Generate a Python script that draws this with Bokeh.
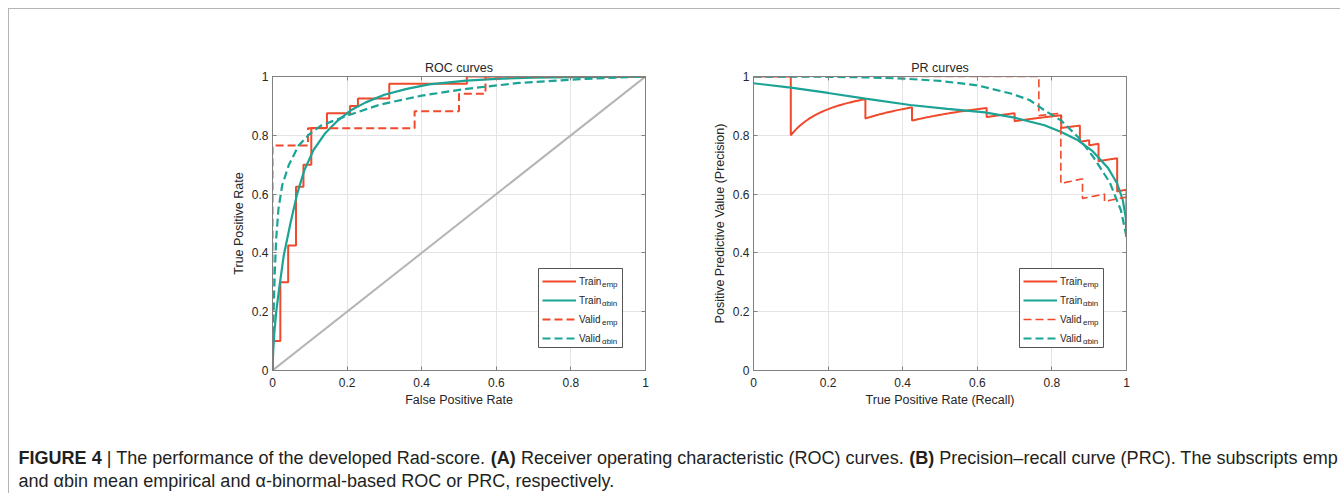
import numpy as np
from bokeh.plotting import figure
from bokeh.models import (Range1d, LinearAxis, FixedTicker, Label, Legend, LegendItem,
                          BoxAnnotation)
from bokeh.layouts import column, row
from bokeh.embed import file_html
from bokeh.resources import INLINE

FONT = "Liberation Sans"
RED = "#f0492b"
TEAL = "#1ba396"
DIAG = "#b5b5b5"
AXIS = "#808080"
TXT = "#262626"

TICKS = [0, 0.2, 0.4, 0.6, 0.8, 1]
TICK_LABELS = {0: "0", 0.2: "0.2", 0.4: "0.4", 0.6: "0.6", 0.8: "0.8", 1: "1"}

# ---------------- ROC data ----------------
roc_train_emp_fpr = [0, 0, 0.021, 0.042, 0.063, 0.083, 0.104, 0.146, 0.208, 0.229, 0.313, 0.521, 1.0]
roc_train_emp_tpr = [0, 0.1, 0.3, 0.425, 0.625, 0.7, 0.825, 0.875, 0.9, 0.925, 0.975, 1.0, 1.0]

roc_valid_emp_fpr = [0, 0, 0.095, 0.381, 0.5, 0.571, 1.0]
roc_valid_emp_tpr = [0, 0.765, 0.824, 0.882, 0.941, 1.0, 1.0]

roc_train_abin_fpr = [0, 0.002, 0.005, 0.01, 0.018, 0.03, 0.048, 0.066, 0.085, 0.11, 0.14, 0.175,
                      0.21, 0.25, 0.3, 0.36, 0.42, 0.52, 0.6, 0.7, 0.8, 0.9, 1.0]
roc_train_abin_tpr = [0, 0.07, 0.13, 0.2, 0.28, 0.39, 0.5, 0.6, 0.68, 0.75, 0.805, 0.85,
                      0.885, 0.912, 0.938, 0.958, 0.973, 0.986, 0.992, 0.996, 0.998, 0.999, 1.0]

roc_valid_abin_fpr = [0, 0.001, 0.003, 0.006, 0.01, 0.016, 0.026, 0.044, 0.07, 0.1, 0.13, 0.2,
                      0.29, 0.4, 0.52, 0.66, 0.84, 1.0]
roc_valid_abin_tpr = [0, 0.1, 0.2, 0.33, 0.45, 0.55, 0.63, 0.7, 0.765, 0.805, 0.833, 0.867,
                      0.905, 0.935, 0.958, 0.978, 0.992, 1.0]

chance_x = [0, 1]
chance_y = [0, 1]

# ---------------- PR data ----------------
pr_train_emp_rec = [0, 0.1, 0.1, 0.3, 0.3, 0.425, 0.425, 0.625, 0.625, 0.7, 0.7, 0.825, 0.825,
                    0.875, 0.875, 0.9, 0.9, 0.925, 0.925, 0.975, 0.975, 1.0, 1.0]
pr_train_emp_prec = [1.0, 1.0, 0.8, 0.923, 0.857, 0.895, 0.85, 0.893, 0.862, 0.875, 0.848, 0.868, 0.825,
                     0.833, 0.778, 0.783, 0.766, 0.771, 0.712, 0.722, 0.609, 0.615, 0.4545]

pr_valid_emp_rec = [0, 0.765, 0.765, 0.824, 0.824, 0.882, 0.882, 0.941, 0.941, 1.0, 1.0]
pr_valid_emp_prec = [1.0, 1.0, 0.867, 0.875, 0.636, 0.652, 0.585, 0.6, 0.575, 0.59, 0.447]

pr_train_abin_rec = [0, 0.1, 0.2, 0.3, 0.42, 0.52, 0.62, 0.7, 0.78, 0.825, 0.87, 0.91, 0.95,
                     0.975, 0.99, 0.998, 1.0]
pr_train_abin_prec = [0.977, 0.962, 0.944, 0.925, 0.903, 0.89, 0.878, 0.86, 0.834, 0.811, 0.783,
                      0.745, 0.69, 0.636, 0.58, 0.52, 0.455]

pr_valid_abin_rec = [0, 0.2, 0.3, 0.4, 0.5, 0.6, 0.69, 0.74, 0.78, 0.825, 0.87, 0.91, 0.955, 0.985, 1.0]
pr_valid_abin_prec = [1.0, 0.999, 0.997, 0.993, 0.985, 0.97, 0.942, 0.92, 0.885, 0.85, 0.794,
                      0.728, 0.64, 0.545, 0.455]

legend_names = ["Train", "Train", "Valid", "Valid"]
legend_subs = ["emp", "\u03b1bin", "emp", "\u03b1bin"]

caption_line1 = [
    ("FIGURE 4", True),
    ("| The performance of the developed Rad-score.", False),
    ("(A)", True),
    ("Receiver operating characteristic (ROC) curves.", False),
    ("(B)", True),
    ("Precision\u2013recall curve (PRC). The subscripts emp", False),
]
caption_line2 = "and \u03b1bin mean empirical and \u03b1-binormal-based ROC or PRC, respectively."

# Arial / Liberation Sans advance widths (1/1000 em) used to lay out the caption
_REG = dict(zip(" ()-.,|\u2013\u03b1", [278, 333, 333, 333, 278, 278, 260, 556, 578]))
_REG.update(dict(zip("ABCDEFGHIJKLMNOPQRSTUVWXYZ",
                     [667, 667, 722, 722, 667, 611, 778, 722, 278, 500, 667, 556, 833, 722, 778,
                      667, 778, 722, 667, 611, 722, 667, 944, 667, 667, 611])))
_REG.update(dict(zip("abcdefghijklmnopqrstuvwxyz",
                     [556, 556, 500, 556, 556, 278, 556, 556, 222, 222, 500, 222, 833, 556, 556,
                      556, 556, 333, 500, 278, 556, 500, 722, 500, 500, 500])))
_REG.update({d: 556 for d in "0123456789"})
_BOLD = {" ": 278, "(": 333, ")": 333, "4": 556, "A": 722, "B": 722, "E": 667, "F": 611,
         "G": 778, "I": 278, "R": 722, "U": 722}


def em_width(s, bold):
    tab = _BOLD if bold else _REG
    return sum(tab.get(ch, 556) for ch in s) / 1000.0


def pr_path(rec, prec, n=40):
    """Empirical PR path: vertical drops, and PR-space interpolation between points."""
    xs, ys = [rec[0]], [prec[0]]
    for r0, p0, r1, p1 in zip(rec[:-1], prec[:-1], rec[1:], prec[1:]):
        if r1 > r0:
            c0 = r0 * (1 - p0) / p0
            c1 = r1 * (1 - p1) / p1
            t = np.linspace(0, 1, n)[1:]
            r = r0 + t * (r1 - r0)
            c = c0 + t * (c1 - c0)
            p = np.where(r + c > 0, r / np.maximum(r + c, 1e-12), 1.0)
            xs.extend(r.tolist())
            ys.extend(p.tolist())
        else:
            xs.append(r1)
            ys.append(p1)
    return xs, ys


FRAME_W, FRAME_H = 373, 294


def make_fig(title, xlabel, ylabel, width, mbl, mbr):
    p = figure(width=width, height=404, min_border_left=mbl, min_border_right=mbr,
               min_border_top=67, min_border_bottom=43,
               x_range=Range1d(0, 1), y_range=Range1d(0, 1),
               output_backend="svg", toolbar_location=None, title=title)
    p.title.align = "center"
    p.title.text_font = FONT
    p.title.text_font_size = "12.5px"
    p.title.text_font_style = "normal"
    p.title.text_color = TXT
    p.title.standoff = 3
    p.outline_line_color = AXIS
    p.background_fill_color = "white"
    p.border_fill_color = "white"
    for ax in (p.xaxis[0], p.yaxis[0]):
        ax.ticker = FixedTicker(ticks=TICKS)
        ax.major_label_overrides = TICK_LABELS
        ax.major_label_text_font = FONT
        ax.major_label_text_font_size = "12px"
        ax.major_label_text_color = TXT
        ax.axis_label_text_font = FONT
        ax.axis_label_text_font_size = "12.5px"
        ax.axis_label_text_font_style = "normal"
        ax.axis_label_text_color = TXT
        ax.axis_line_color = AXIS
        ax.major_tick_line_color = AXIS
        ax.major_tick_in = 4
        ax.major_tick_out = 0
        ax.minor_tick_line_color = None
    p.xaxis[0].axis_label = xlabel
    p.yaxis[0].axis_label = ylabel
    p.xaxis[0].major_label_standoff = 7
    p.xaxis[0].axis_label_standoff = 3
    p.yaxis[0].major_label_standoff = 4
    p.yaxis[0].axis_label_standoff = 3
    for loc in ("above", "right"):
        ax = LinearAxis(ticker=FixedTicker(ticks=TICKS), major_label_text_font_size="1px",
                        major_label_text_color=None, major_label_standoff=0,
                        major_tick_in=4, major_tick_out=0,
                        minor_tick_line_color=None, axis_line_color=AXIS,
                        major_tick_line_color=AXIS)
        p.add_layout(ax, loc)
    for g in (p.xgrid[0], p.ygrid[0]):
        g.ticker = FixedTicker(ticks=TICKS)
        g.grid_line_color = "#e4e4e4"
    return p


# legend geometry (px)
LG_MARGIN, LG_PAD, LG_GW, LG_STAND, LG_LW, LG_ROW, LG_SP = 23, 2, 34, 3, 43, 18, 1
LG_W = 2 * LG_PAD + LG_GW + LG_STAND + LG_LW
LG_H = 2 * LG_PAD + 4 * LG_ROW + 3 * LG_SP


def add_legend(p, renderers):
    left = (FRAME_W - LG_MARGIN - LG_W) / FRAME_W
    right = (FRAME_W - LG_MARGIN) / FRAME_W
    bottom = LG_MARGIN / FRAME_H
    top = (LG_MARGIN + LG_H) / FRAME_H
    p.add_layout(BoxAnnotation(left=left, right=right, bottom=bottom, top=top,
                               fill_color="white", fill_alpha=1.0, line_color="#555555",
                               line_width=1, line_alpha=1.0))
    items = [LegendItem(label=n, renderers=[r]) for n, r in zip(legend_names, renderers)]
    lg = Legend(items=items, location="bottom_right", margin=LG_MARGIN, padding=LG_PAD,
                spacing=LG_SP, glyph_width=LG_GW, glyph_height=LG_ROW, label_height=LG_ROW,
                label_width=LG_LW, label_standoff=LG_STAND, label_text_font=FONT,
                label_text_font_size="10px", label_text_color=TXT, border_line_color=None,
                background_fill_alpha=0.0)
    p.add_layout(lg)
    # subscripts placed just after the legend label texts
    x0 = (FRAME_W - LG_MARGIN - LG_W + LG_PAD + LG_GW + LG_STAND + 24.5) / FRAME_W
    for i, s in enumerate(legend_subs):
        row_center = LG_MARGIN + LG_H - LG_PAD - i * (LG_ROW + LG_SP) - LG_ROW / 2
        p.add_layout(Label(x=x0, y=(row_center - 5) / FRAME_H, text=s, text_font=FONT,
                           text_font_size="8px", text_color=TXT, text_baseline="middle"))


def panel_letter(p, letter, x):
    p.add_layout(Label(x=x, y=1.034, text=letter, text_font=FONT, text_font_size="15px",
                       text_font_style="bold", text_color="black", text_baseline="middle",
                       text_align="center"))


# ---------------- ROC figure ----------------
p1 = make_fig("ROC curves", "False Positive Rate", "True Positive Rate", 671, 263, 35)
p1.line(chance_x, chance_y, line_color=DIAG, line_width=2)
r1 = p1.step(roc_train_emp_fpr, roc_train_emp_tpr, mode="after", line_color=RED, line_width=2)
r2 = p1.line(roc_train_abin_fpr, roc_train_abin_tpr, line_color=TEAL, line_width=2.2)
r3 = p1.step(roc_valid_emp_fpr, roc_valid_emp_tpr, mode="after", line_color=RED, line_width=2,
             line_dash="8 4")
r4 = p1.line(roc_valid_abin_fpr, roc_valid_abin_tpr, line_color=TEAL, line_width=2.2,
             line_dash="8 4")
add_legend(p1, [r1, r2, r3, r4])
panel_letter(p1, "A", -0.08)

# ---------------- PR figure ----------------
p2 = make_fig("PR curves", "True Positive Rate (Recall)", "Positive Predictive Value (Precision)",
              660, 73, 214)
tx, ty = pr_path(pr_train_emp_rec, pr_train_emp_prec)
vx, vy = pr_path(pr_valid_emp_rec, pr_valid_emp_prec)
q1 = p2.line(tx, ty, line_color=RED, line_width=2)
q2 = p2.line(pr_train_abin_rec, pr_train_abin_prec, line_color=TEAL, line_width=2.2)
q3 = p2.line(vx, vy, line_color=RED, line_width=1.6, line_dash="8 4")
q4 = p2.line(pr_valid_abin_rec, pr_valid_abin_prec, line_color=TEAL, line_width=2.2,
             line_dash="8 4")
add_legend(p2, [q1, q2, q3, q4])
panel_letter(p2, "B", -0.076)

# ---------------- caption ----------------
CW, CH = 1331, 80
cap = figure(width=CW, height=CH, x_range=Range1d(0, CW), y_range=Range1d(CH, 0),
             x_axis_type=None, y_axis_type=None, min_border=0, output_backend="svg",
             toolbar_location=None)
cap.outline_line_color = None
cap.grid.visible = False

line_em = sum(em_width(t, b) for t, b in caption_line1) + 0.278 * (len(caption_line1) - 1)
CAP_SIZE = 1320.0 / line_em
x = 9.0
for text, bold in caption_line1:
    cap.add_layout(Label(x=x, y=44, text=text, text_font=FONT, text_font_size=f"{CAP_SIZE:.2f}px",
                         text_font_style="bold" if bold else "normal", text_color="#231f20",
                         text_baseline="middle"))
    x += (em_width(text, bold) + 0.278) * CAP_SIZE
cap.add_layout(Label(x=9, y=67, text=caption_line2, text_font=FONT,
                     text_font_size=f"{CAP_SIZE:.2f}px", text_color="#231f20",
                     text_baseline="middle"))

layout = column(row(p1, p2), cap,
                styles={"margin-left": "8px", "margin-top": "8px",
                        "border-top": "1px solid #b4b4b4", "border-left": "1px solid #b4b4b4"})

open("out.html", "w").write(file_html(layout, INLINE))
